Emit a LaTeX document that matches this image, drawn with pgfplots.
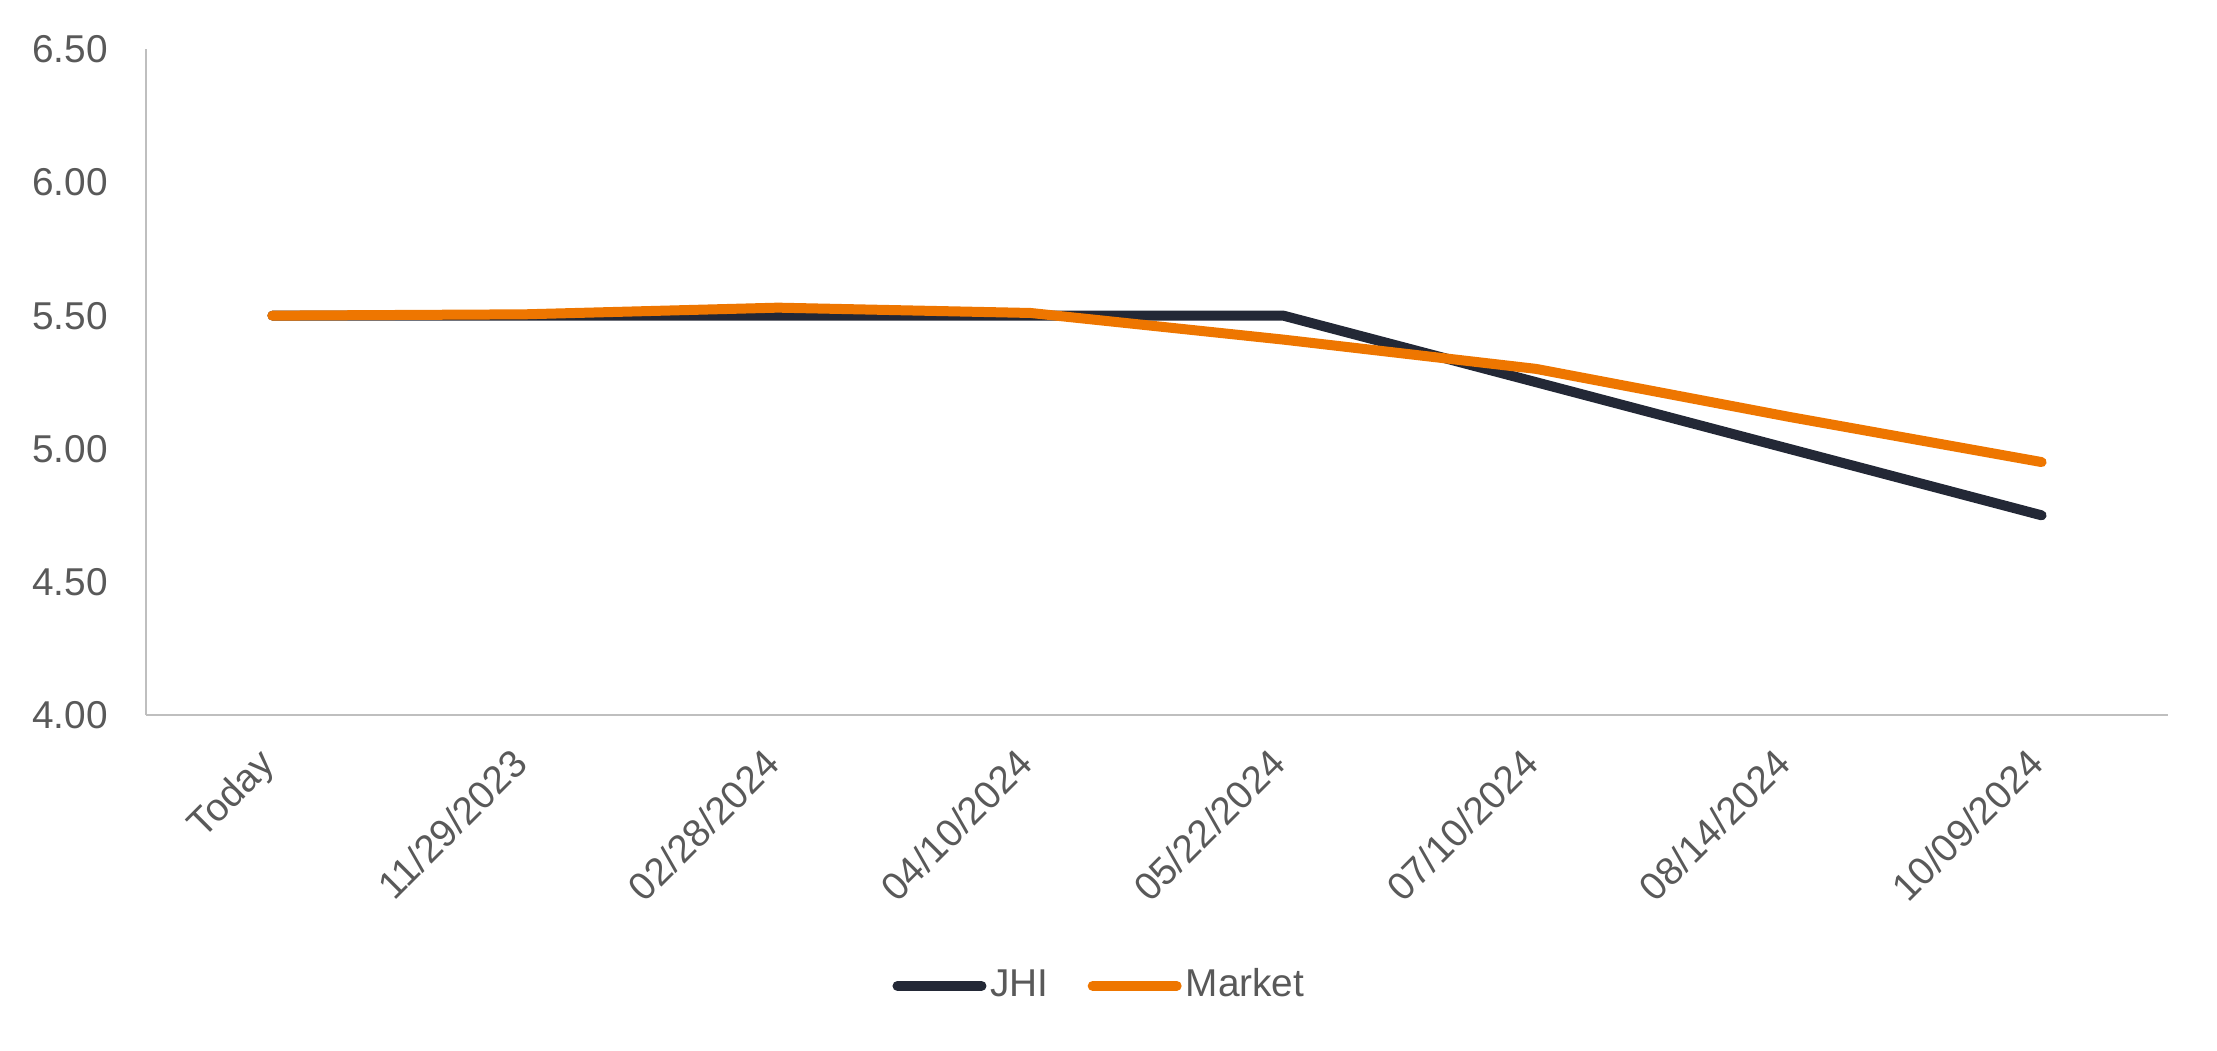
\documentclass[border=0pt]{standalone}
\usepackage{pgfplots}
\pgfplotsset{compat=1.18}
\usepackage{fontspec}
\setmainfont{Liberation Sans}

\definecolor{jhi}{HTML}{232836}
\definecolor{mkt}{HTML}{EE7600}
\definecolor{txt}{HTML}{595959}
\definecolor{axl}{HTML}{BFBFBF}

\begin{document}
\begin{tikzpicture}
\useasboundingbox (0,0) rectangle (554.25pt,262.5pt);
\begin{axis}[
    at={(36.5pt,83.75pt)}, anchor=south west,
    scale only axis,
    width=505.5pt, height=166.4pt,
    xmin=-0.5, xmax=7.5,
    ymin=4, ymax=6.5,
    ytick={4,4.5,5,5.5,6,6.5},
    /pgf/number format/assume math mode=true,
    yticklabel={\pgfmathprintnumber[fixed,fixed zerofill,precision=2]{\tick}},
    xtick={0,...,7},
    xticklabels={Today,11/29/2023,02/28/2024,04/10/2024,05/22/2024,07/10/2024,08/14/2024,10/09/2024},
    xticklabel style={rotate=45, anchor=north east, inner sep=0pt, yshift=-2.6pt, xshift=-8.1pt},
    yticklabel style={xshift=-6pt},
    tick label style={font=\fontsize{9.7}{11}\selectfont, text=txt},
    major tick length=0pt,
    axis x line=bottom, axis y line=left,
    axis line style={draw=axl, line width=0.4pt, -},
    legend columns=2,
    legend style={at={(0.472,-0.407)}, anchor=center, draw=none, font=\fontsize{9.7}{11}\selectfont, text=txt,
        nodes={inner sep=1pt},
        /tikz/every even column/.append style={column sep=8.75pt}},
    legend image code/.code={\draw[#1, line cap=round] (1.25pt,0pt) -- (22.25pt,0pt);},
    clip=false,
]
\addplot[line width=2.5pt, color=jhi, line cap=round, line join=round]
    coordinates{(0,5.50) (1,5.50) (2,5.50) (3,5.50) (4,5.50) (5,5.25) (6,5.00) (7,4.75)};
\addlegendentry{JHI}
\addplot[line width=2.5pt, color=mkt, line cap=round, line join=round]
    coordinates{(0,5.50) (1,5.505) (2,5.53) (3,5.51) (4,5.41) (5,5.30) (6,5.12) (7,4.95)};
\addlegendentry{Market}
\end{axis}
\end{tikzpicture}
\end{document}
